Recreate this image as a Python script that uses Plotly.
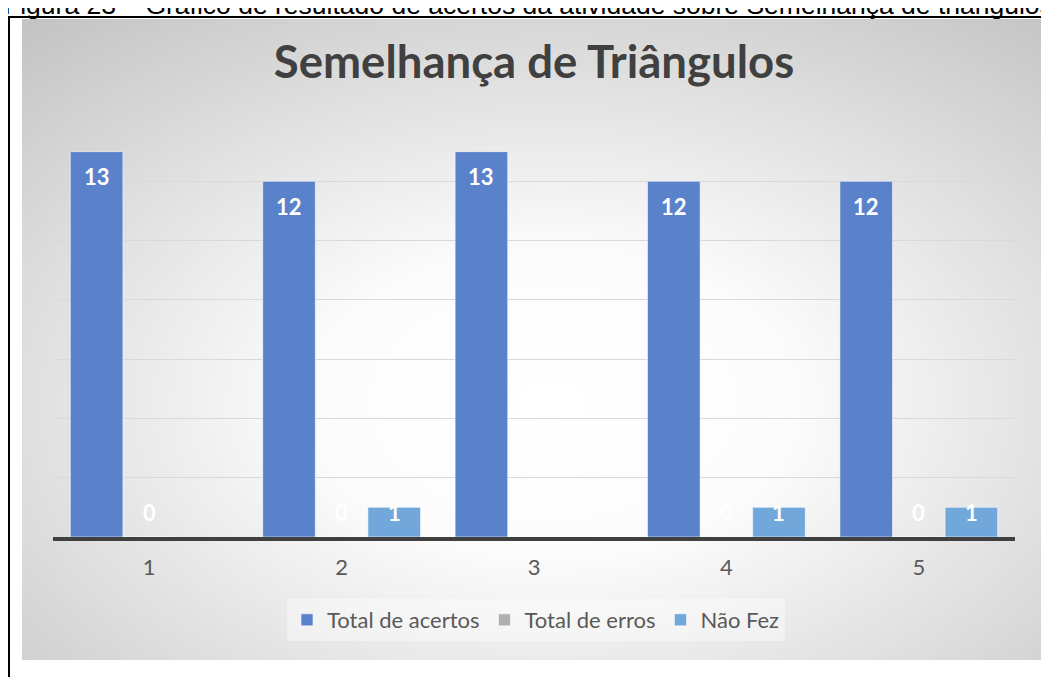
import base64
import plotly.graph_objects as go

# -----------------------------
# Data
# -----------------------------
questoes = [1, 2, 3, 4, 5]
total_acertos = [13, 12, 13, 12, 12]
total_erros = [0, 0, None, 0, 0]
nao_fez = [None, 1, None, 1, 1]

series = [
    ("Total de acertos", total_acertos, "#5A82CA"),
    ("Total de erros", total_erros, "#B0B0B0"),
    ("Não Fez", nao_fez, "#71A7DA"),
]

caption = ("Figura 23 – Gráfico de resultado de acertos da atividade "
           "sobre Semelhança de triângulos")
titulo = "Semelhança de Triângulos"

# -----------------------------
# Page geometry (screen pixels -> paper), page body has an 8px margin
# -----------------------------
W, H = 1049, 677
OFF = 8


def fx(p):
    return (p - OFF) / W


def fy(p):
    return 1 - (p - OFF) / H


BARGAP = 0.18
YMAX = 14
PLOT_TOP, PLOT_BOTTOM = 122, 537
px_per_unit = (PLOT_BOTTOM - PLOT_TOP) / YMAX
label_pad = 25 / px_per_unit
slot = (1 - BARGAP) / 3

fig = go.Figure()
for name, vals, color in series:
    fig.add_bar(x=questoes, y=vals, name=name,
                marker=dict(color=color,
                            line=dict(color="rgba(255,255,255,0.55)", width=1)))

# data labels, white bold, "inside end" like the office chart
annots = []
for k, (name, vals, color) in enumerate(series):
    for q, v in zip(questoes, vals):
        if v is None:
            continue
        annots.append(dict(
            x=q + (k - 1) * slot, y=max(v - label_pad, label_pad),
            xref="x", yref="y", text=str(v), showarrow=False,
            yanchor="middle",
            font=dict(family="Lato", size=22, color="white", weight="bold"),
        ))

# caption of the page, cut off at the top
annots.append(dict(
    x=fx(2), y=fy(5), xref="paper", yref="paper", xanchor="left",
    yanchor="middle", text=caption, showarrow=False,
    font=dict(family="Liberation Sans, Arial", size=26.5, color="black"),
))

# radial gradient background of the chart area
svg = (
    "<svg xmlns='http://www.w3.org/2000/svg' width='100' height='100' "
    "viewBox='0 0 100 100' preserveAspectRatio='none'><defs>"
    "<radialGradient id='g' cx='0.52' cy='0.6' r='0.78'>"
    "<stop offset='0' stop-color='#ffffff'/>"
    "<stop offset='0.3' stop-color='#fcfcfc'/>"
    "<stop offset='1' stop-color='#c4c4c4'/>"
    "</radialGradient></defs>"
    "<rect width='100' height='100' fill='url(#g)'/></svg>"
)
bg_src = "data:image/svg+xml;base64," + base64.b64encode(svg.encode()).decode()

fig.update_layout(
    width=W, height=H,
    margin=dict(l=0, r=0, t=0, b=0),
    paper_bgcolor="white",
    plot_bgcolor="rgba(0,0,0,0)",
    barmode="group",
    bargap=BARGAP,
    bargroupgap=0,
    title=dict(text=titulo, x=fx(534), y=fy(62), xanchor="center",
               yanchor="middle",
               font=dict(family="Lato", size=45.5, color="#404040",
                         weight="bold")),
    xaxis=dict(domain=[fx(53), fx(1015)], range=[0.5, 5.5],
               tickvals=questoes, ticktext=[str(q) for q in questoes],
               showgrid=False, zeroline=False,
               showline=True, linecolor="#404040", linewidth=3.5,
               ticks="outside", ticklen=8, tickcolor="rgba(0,0,0,0)",
               tickfont=dict(family="Lato", size=22, color="#595959")),
    yaxis=dict(domain=[fy(PLOT_BOTTOM), fy(PLOT_TOP)], range=[0, YMAX],
               dtick=2, showticklabels=False, zeroline=False,
               showgrid=True, gridcolor="#d9d9d9", gridwidth=1),
    legend=dict(orientation="h", x=fx(536), xanchor="center",
                y=fy(620), yanchor="middle",
                bgcolor="rgba(255,255,255,0.4)",
                font=dict(family="Lato", size=22, color="#595959")),
    annotations=annots,
    images=[dict(source=bg_src, xref="paper", yref="paper",
                 x=fx(22), y=fy(19), sizex=(1043 - 22) / W,
                 sizey=(660 - 19) / H, xanchor="left", yanchor="top",
                 sizing="stretch", layer="below")],
    shapes=[dict(type="path", xref="paper", yref="paper",
                 path=f"M {fx(9)},0 L {fx(9)},{fy(17)} L 1,{fy(17)}",
                 line=dict(color="black", width=2))],
)

fig.write_html("out.html")
